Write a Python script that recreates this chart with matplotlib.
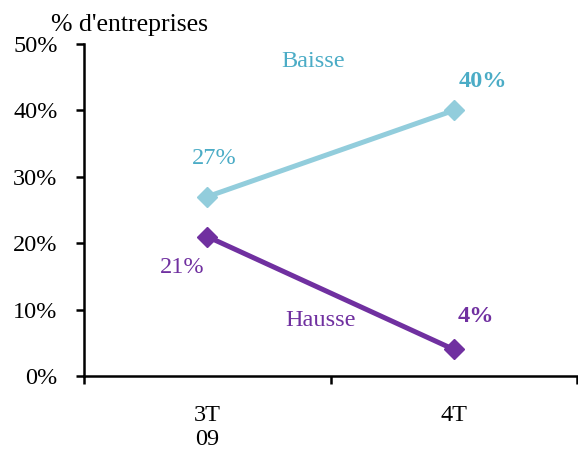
import matplotlib.pyplot as plt

plt.rcParams['font.family'] = ['Liberation Serif', 'DejaVu Serif']

periods = ["3T\n09", "4T"]
baisse = [27, 40]
hausse = [21, 4]

blue_line = "#92CDDC"
blue_text = "#4BACC6"
purple = "#7030A0"
fs = 17.5

fig = plt.figure(figsize=(5.78, 4.54), dpi=100)
ax = fig.add_axes([0.1453, 0.1718, 0.853, 0.7313])

x = list(range(len(periods)))
ax.plot(x, [v / 100 for v in baisse], color=blue_line, lw=3.6, marker='D', ms=10, clip_on=False)
ax.plot(x, [v / 100 for v in hausse], color=purple, lw=3.6, marker='D', ms=10, clip_on=False)

# value and series labels
ax.text(0.43, 0.474, "Baisse", color=blue_text, fontsize=fs, ha='center', va='center')
ax.text(0.03, 0.328, "27%", color=blue_text, fontsize=fs, ha='center', va='center')
ax.text(1.12, 0.443, "40%", color=blue_text, fontsize=fs, fontweight='bold', ha='center', va='center')
ax.text(0.46, 0.084, "Hausse", color=purple, fontsize=fs, ha='center', va='center')
ax.text(-0.10, 0.163, "21%", color=purple, fontsize=fs, ha='center', va='center')
ax.text(1.09, 0.090, "4%", color=purple, fontsize=fs, fontweight='bold', ha='center', va='center')

ax.set_xlim(-0.5, 1.5)
ax.set_ylim(0, 0.5)
ax.set_yticks([0, 0.1, 0.2, 0.3, 0.4, 0.5])
ax.set_yticklabels(["0%", "10%", "20%", "30%", "40%", "50%"])
ax.set_xticks([-0.5, 0.5, 1.5])
ax.set_xticklabels([])
ax.set_xticks(x, minor=True)
ax.set_xticklabels(periods, minor=True)
ax.tick_params(axis='x', which='minor', length=0, pad=21, labelsize=fs)
ax.tick_params(axis='x', which='major', direction='out', length=6, width=1.8)
ax.tick_params(axis='y', direction='out', length=6, width=1.8, labelsize=fs, pad=13)

for side in ['top', 'right']:
    ax.spines[side].set_visible(False)
for side in ['left', 'bottom']:
    ax.spines[side].set_linewidth(1.8)

fig.text(0.088, 0.945, "% d'entreprises", fontsize=18.5, ha='left', va='center')

fig.savefig("out.png", dpi=100)
